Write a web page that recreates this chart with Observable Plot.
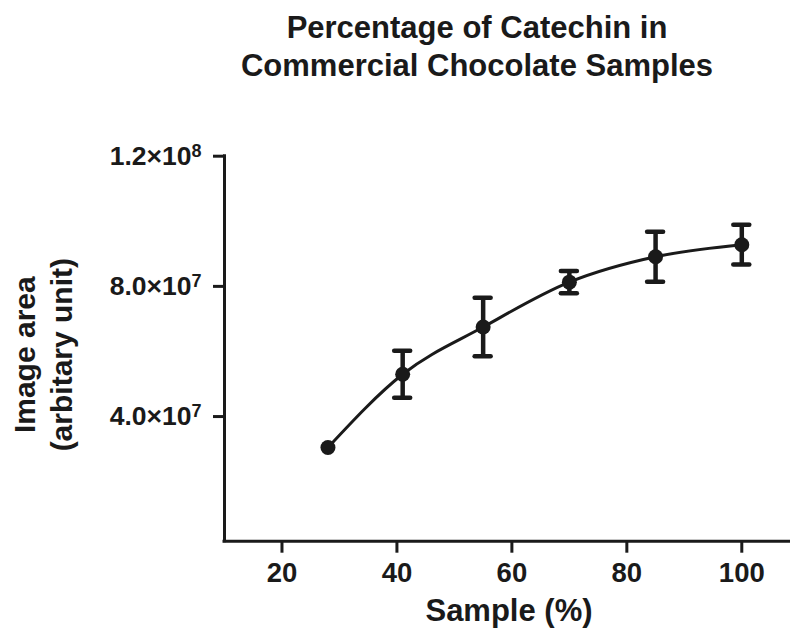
<!DOCTYPE html>
<html>
<head>
<meta charset="utf-8">
<script src="https://cdn.jsdelivr.net/npm/d3@7"></script>
<script src="https://cdn.jsdelivr.net/npm/@observablehq/plot@0.6"></script>
<style>
  html, body { margin: 0; padding: 0; background: #fff; }
  body { width: 790px; height: 630px; overflow: hidden; font-family: "Liberation Sans", Arial, Helvetica, sans-serif; color: #1a1a1a; }
  #title { box-sizing: border-box; width: 790px; height: 84px; padding-top: 9px; padding-left: 164px; text-align: center; font-size: 31px; font-weight: bold; line-height: 38px; }
  #chart svg { display: block; }
</style>
</head>
<body>
<div id="title">Percentage of Catechin in<br>Commercial Chocolate Samples</div>
<div id="chart"></div>
<script>
// ---- data ----
const samplePct = [28, 41, 55, 70, 85, 100];
const imageArea = [3.05e7, 5.3e7, 6.75e7, 8.13e7, 8.91e7, 9.28e7];
const errorSD   = [0, 7.2e6, 9.0e6, 3.4e6, 7.7e6, 6.1e6];
const xTicks = [20, 40, 60, 80, 100];
const yTicks = [4e7, 8e7, 1.2e8];
const yTickLabels = ["4.0×10^7", "8.0×10^7", "1.2×10^8"];
const xDomain = [10, 108.3];
const yDomain = [1.7e6, 1.2e8];
const xLabel = "Sample (%)";
const yLabel = "Image area\n(arbitary unit)";

const ink = "#1a1a1a";
const data = samplePct.map((x, i) => ({x, y: imageArea[i], lo: imageArea[i] - errorSD[i], hi: imageArea[i] + errorSD[i], e: errorSD[i]}));
const withErr = data.filter(d => d.e > 0);

const chart = Plot.plot({
  width: 790,
  height: 546,
  marginTop: 71.7,
  marginBottom: 89.3,
  marginLeft: 224,
  marginRight: 1,
  x: {domain: xDomain},
  y: {domain: yDomain},
  style: {fontFamily: '"Liberation Sans", Arial, Helvetica, sans-serif', color: ink, background: "#fff", overflow: "visible"},
  marks: [
    Plot.axisY({ticks: yTicks, tickSize: 11, tickPadding: 12, strokeWidth: 3,
      tickFormat: v => yTickLabels[yTicks.indexOf(v)], fontSize: 26.5, fontWeight: "bold", label: null}),
    Plot.axisX({ticks: xTicks, tickSize: 12, tickPadding: 9, strokeWidth: 3,
      fontSize: 27.5, fontWeight: "bold", label: null}),
    Plot.ruleX([xDomain[0]], {stroke: ink, strokeWidth: 3, strokeLinecap: "square"}),
    Plot.ruleY([yDomain[0]], {stroke: ink, strokeWidth: 3, strokeLinecap: "square"}),
    Plot.line(data, {x: "x", y: "y", curve: "monotone-x", stroke: ink, strokeWidth: 3}),
    Plot.ruleX(withErr, {x: "x", y1: "lo", y2: "hi", stroke: ink, strokeWidth: 4.5}),
    Plot.ruleY(withErr, {y: "hi", x1: "x", x2: "x", insetLeft: -8, insetRight: -8, stroke: ink, strokeWidth: 4.5, strokeLinecap: "round"}),
    Plot.ruleY(withErr, {y: "lo", x1: "x", x2: "x", insetLeft: -8, insetRight: -8, stroke: ink, strokeWidth: 4.5, strokeLinecap: "round"}),
    Plot.dot(data, {x: "x", y: "y", r: 7.5, fill: ink, stroke: null}),
    Plot.text([xLabel], {frameAnchor: "bottom", textAnchor: "middle", lineAnchor: "bottom", dx: 2, dy: 80, fontSize: 31, fontWeight: "bold", fill: ink}),
    Plot.text([yLabel], {frameAnchor: "left", textAnchor: "middle", rotate: -90, lineAnchor: "middle", dx: -183, dy: 6, fontSize: 30, fontWeight: "bold", lineHeight: 1.25, fill: ink})
  ]
});
document.getElementById("chart").appendChild(chart);

// render exponents as superscripts
d3.select(chart).selectAll('g[aria-label="y-axis tick label"] text').each(function() {
  const t = d3.select(this);
  const s = t.text();
  const [base, exp] = s.split("^");
  t.text(null);
  t.append("tspan").text(base);
  if (exp) t.append("tspan").attr("dy", "-0.42em").attr("font-size", 18).text(exp);
});
</script>
</body>
</html>
